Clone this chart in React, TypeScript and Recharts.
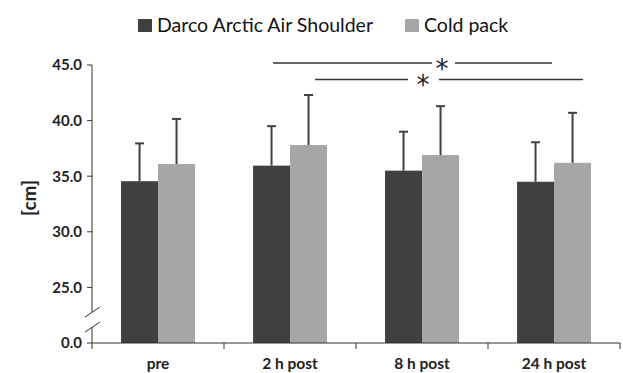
import { BarChart, Bar, XAxis, YAxis, ReferenceLine, ReferenceDot } from "recharts";

// ─── Data ───

const timepoints = ["pre", "2 h post", "8 h post", "24 h post"];
const darcoMean = [34.55, 35.95, 35.5, 34.5];
const darcoSd = [3.4, 3.55, 3.5, 3.55];
const coldMean = [36.1, 37.8, 36.9, 36.2];
const coldSd = [4.05, 4.5, 4.4, 4.5];

// the axis is broken: the lowest tick (20) is drawn as "0.0"
const yTicks = [20, 25, 30, 35, 40, 45];
const yTickLabels = ["0.0", "25.0", "30.0", "35.0", "40.0", "45.0"];

const seriesNames = ["Darco Arctic Air Shoulder", "Cold pack"];

const data = timepoints.map((t, i) => ({
  name: t,
  pos: i + 0.5,
  darco: darcoMean[i],
  darcoSd: darcoSd[i],
  cold: coldMean[i],
  coldSd: coldSd[i],
}));

// significance brackets, x in category units (0..4) on a hidden numeric axis
const sigLines = [
  { y: 45.18, segs: [[1.371, 2.576], [2.75, 3.485]], star: 2.652 },
  { y: 43.7, segs: [[1.689, 2.394], [2.629, 3.72]], star: 2.508 },
];

// ─── Layout ───

const W = 623;
const H = 373;
const Y_MIN = 20;
const Y_AXIS_W = 92;
const MARGIN = { top: 65, right: 3, left: 0, bottom: 0 };
const HALF_BAND =
  (W - MARGIN.left - MARGIN.right - Y_AXIS_W) / timepoints.length / 2;

const DARK = "#404040";
const LIGHT = "#a6a6a6";
const AXIS = "#333333";
const FONT = "Lato, 'Open Sans', sans-serif";

function barWithSd(key: string, sdKey: string) {
  return (p: any) => {
    const { x, y, width, height, fill, payload } = p;
    const v = payload[key];
    const pxPerUnit = height / (v - Y_MIN);
    const top = y - payload[sdKey] * pxPerUnit;
    const cx = x + width / 2;
    return (
      <g>
        <rect x={x} y={y} width={width} height={height} fill={fill} />
        <line x1={cx} y1={y} x2={cx} y2={top} stroke={DARK} strokeWidth={2} />
        <line
          x1={cx - 4.5}
          y1={top}
          x2={cx + 4.5}
          y2={top}
          stroke={DARK}
          strokeWidth={2}
        />
      </g>
    );
  };
}

function XTick(props: any) {
  const { x, y, payload, index } = props;
  const last = index === timepoints.length - 1;
  return (
    <g>
      <line x1={x - HALF_BAND} y1={y - 6} x2={x - HALF_BAND} y2={y} stroke={AXIS} />
      {last && (
        <line x1={x + HALF_BAND} y1={y - 6} x2={x + HALF_BAND} y2={y} stroke={AXIS} />
      )}
      <text
        x={x}
        y={y + 20}
        textAnchor="middle"
        fontFamily={FONT}
        fontWeight={700}
        fontSize={15.5}
        fill="#222"
      >
        {payload.value}
      </text>
    </g>
  );
}

function Star(p: any) {
  return (
    <text
      x={p.cx}
      y={p.cy + 15}
      textAnchor="middle"
      fontFamily="'DejaVu Sans', sans-serif"
      fontSize={26}
      fill="#222"
    >
      *
    </text>
  );
}

export default function App() {
  return (
    <div style={{ position: "absolute", left: 0, top: 0, width: W, height: H, background: "#fff" }}>
      <BarChart
        width={W}
        height={H}
        data={data}
        margin={MARGIN}
        barCategoryGap="22%"
        barGap={0}
      >
        <XAxis
          dataKey="name"
          height={30}
          stroke={AXIS}
          tickLine={false}
          tickSize={6}
          tickMargin={0}
          tick={<XTick />}
          interval={0}
        />
        <XAxis
          xAxisId="n"
          dataKey="pos"
          type="number"
          domain={[0, 4]}
          allowDataOverflow
          hide
        />
        <YAxis
          width={Y_AXIS_W}
          domain={[Y_MIN, 45]}
          ticks={yTicks}
          interval={0}
          tickFormatter={(v: number) => yTickLabels[yTicks.indexOf(v)]}
          axisLine={{ stroke: AXIS, strokeDasharray: "247 15 16" }}
          tickLine={{ stroke: AXIS }}
          tickSize={5}
          tickMargin={5}
          tick={{ fontFamily: FONT, fontWeight: 700, fontSize: 15, fill: "#222" }}
          label={{
            content: (lp: any) => {
              const vb = lp.viewBox;
              const cy = vb.y + vb.height / 2 - 6;
              return (
                <text
                  x={28}
                  y={cy}
                  transform={`rotate(-90 28 ${cy})`}
                  textAnchor="middle"
                  dominantBaseline="central"
                  fontFamily={FONT}
                  fontWeight={700}
                  fontSize={19}
                  fill="#222"
                >
                  [cm]
                </text>
              );
            },
          }}
        />
        <Bar
          dataKey="darco"
          name={seriesNames[0]}
          fill={DARK}
          isAnimationActive={false}
          shape={barWithSd("darco", "darcoSd")}
        />
        <Bar
          dataKey="cold"
          name={seriesNames[1]}
          fill={LIGHT}
          isAnimationActive={false}
          shape={barWithSd("cold", "coldSd")}
        />
        {/* axis break marks */}
        <ReferenceLine
          xAxisId="n"
          ifOverflow="visible"
          stroke={AXIS}
          segment={[{ x: -0.053, y: 22.34 }, { x: 0.061, y: 23.24 }]}
        />
        <ReferenceLine
          xAxisId="n"
          ifOverflow="visible"
          stroke={AXIS}
          segment={[{ x: -0.053, y: 20.99 }, { x: 0.061, y: 21.89 }]}
        />
        {sigLines.flatMap((s, i) =>
          s.segs.map((sg, j) => (
            <ReferenceLine
              key={`sig-${i}-${j}`}
              xAxisId="n"
              ifOverflow="visible"
              stroke={AXIS}
              strokeWidth={1.5}
              segment={[{ x: sg[0], y: s.y }, { x: sg[1], y: s.y }]}
            />
          ))
        )}
        {sigLines.map((s, i) => (
          <ReferenceDot
            key={`star-${i}`}
            xAxisId="n"
            x={s.star}
            y={s.y}
            ifOverflow="visible"
            shape={<Star />}
          />
        ))}
      </BarChart>
      <svg
        width={W}
        height={40}
        style={{ position: "absolute", left: 0, top: 0 }}
      >
        {[DARK, LIGHT].map((c, i) => {
          const left = i === 0 ? 138 : 405;
          return (
            <g key={c}>
              <rect x={left} y={19} width={14} height={13} fill={c} />
              <text x={left + 19} y={32} fontFamily={FONT} fontSize={19.5} fill="#111">
                {seriesNames[i]}
              </text>
            </g>
          );
        })}
      </svg>
    </div>
  );
}
